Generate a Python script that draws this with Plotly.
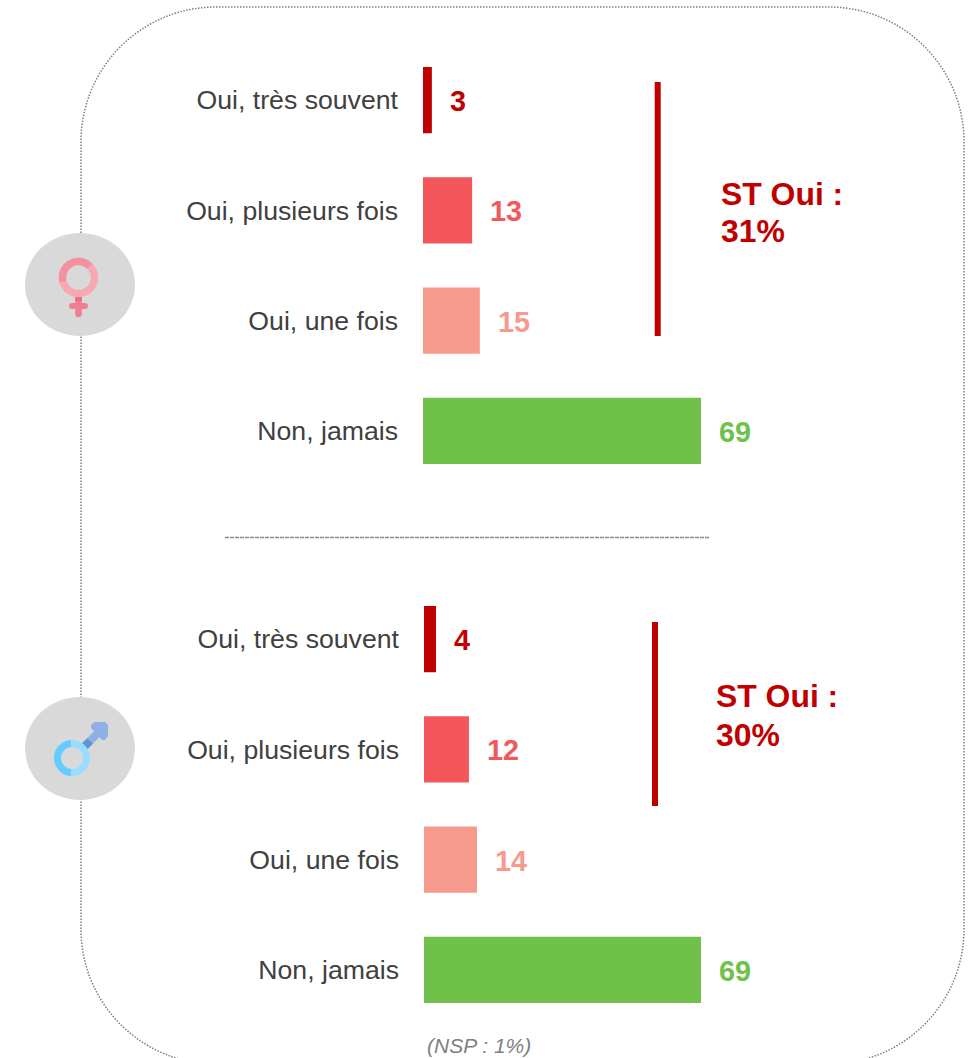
import math
import plotly.graph_objects as go

W, H = 973, 1058

categories = ["Oui, très souvent", "Oui, plusieurs fois", "Oui, une fois", "Non, jamais"]
femmes_bars = [2.2, 12.2, 14.1, 69]
femmes_labels = ["3", "13", "15", "69"]
hommes_bars = [3.0, 11.2, 13.2, 69]
hommes_labels = ["4", "12", "14", "69"]
colors = ["#C00000", "#F3575B", "#F79A8E", "#70C14A"]
st_femmes = ["ST Oui :", "31%"]
st_hommes = ["ST Oui :", "30%"]
footnote = "(NSP : 1%)"

FONT = "Liberation Sans, Arial, sans-serif"
DARK = "#404040"
RED = "#C00000"


def px(x):
    return x / W


def py(y):
    return 1 - y / H


def P(x, y):
    return f"{px(x):.5f},{py(y):.5f}"


def rounded_rect(l, t, r, b, rad):
    k = rad * 0.4477
    return (
        f"M{P(l + rad, t)} L{P(r - rad, t)} C{P(r - k, t)} {P(r, t + k)} {P(r, t + rad)} "
        f"L{P(r, b - rad)} C{P(r, b - k)} {P(r - k, b)} {P(r - rad, b)} "
        f"L{P(l + rad, b)} C{P(l + k, b)} {P(l, b - k)} {P(l, b - rad)} "
        f"L{P(l, t + rad)} C{P(l, t + k)} {P(l + k, t)} {P(l + rad, t)} Z"
    )


def sector(cx, cy, ro, ri, a0, a1, n=48):
    """Annular sector (angles in degrees, screen coordinates)."""
    pts = []
    for i in range(n + 1):
        a = math.radians(a0 + (a1 - a0) * i / n)
        pts.append(P(cx + ro * math.cos(a), cy + ro * math.sin(a)))
    for i in range(n, -1, -1):
        a = math.radians(a0 + (a1 - a0) * i / n)
        pts.append(P(cx + ri * math.cos(a), cy + ri * math.sin(a)))
    return "M" + " L".join(pts) + " Z"


def polygon(points):
    return "M" + " L".join(P(x, y) for x, y in points) + " Z"


def paper_line(x0, y0, x1, y1, color, width, dash=None):
    return dict(type="line", xref="paper", yref="paper", x0=px(x0), y0=py(y0), x1=px(x1), y1=py(y1),
                line=dict(color=color, width=width, dash=dash) if dash else dict(color=color, width=width))


def paper_path(d, fill):
    return dict(type="path", xref="paper", yref="paper", path=d, fillcolor=fill, line=dict(width=0))


def ellipse(cx, cy, rx, ry, fill):
    return dict(type="circle", xref="paper", yref="paper", x0=px(cx - rx), x1=px(cx + rx),
                y0=py(cy + ry), y1=py(cy - ry), fillcolor=fill, line=dict(width=0))


fig = go.Figure()
fig.add_trace(go.Bar(x=femmes_bars, y=categories, orientation="h", marker=dict(color=colors, line=dict(width=0)),
                     xaxis="x", yaxis="y", showlegend=False, hoverinfo="skip"))
fig.add_trace(go.Bar(x=hommes_bars, y=categories, orientation="h", marker=dict(color=colors, line=dict(width=0)),
                     xaxis="x2", yaxis="y2", showlegend=False, hoverinfo="skip"))

annotations = []
for xr, yr, vals, labs in (("x", "y", femmes_bars, femmes_labels), ("x2", "y2", hommes_bars, hommes_labels)):
    for cat, v, lab, c in zip(categories, vals, labs, colors):
        annotations.append(dict(xref=xr, yref=yr, x=v, y=cat, text=f"<b>{lab}</b>", showarrow=False,
                                xanchor="left", yanchor="middle", xshift=16, yshift=-1,
                                font=dict(family=FONT, size=28.8, color=c)))

for (x, y, t) in ((719, 194, st_femmes[0]), (719, 231, st_femmes[1]), (714, 696, st_hommes[0]), (714, 735, st_hommes[1])):
    annotations.append(dict(xref="paper", yref="paper", x=px(x), y=py(y), text=f"<b>{t}</b>", showarrow=False,
                            xanchor="left", yanchor="middle", font=dict(family=FONT, size=31.9, color=RED)))

annotations.append(dict(xref="paper", yref="paper", x=px(425), y=py(1045), text=f"<i>{footnote}</i>", showarrow=False,
                        xanchor="left", yanchor="middle", font=dict(family=FONT, size=21, color="#7F7F7F")))

PINK = "#F07F94"
BLUE = "#8FB0E2"
shapes = [
    dict(type="path", xref="paper", yref="paper", path=rounded_rect(81, 7, 964, 1064, 135),
         line=dict(color="#7F7F7F", width=1.5, dash="1.5px,1.5px")),
    paper_line(225, 537.5, 710, 537.5, "#8C8C8C", 1.3, dash="4px,1px"),
    paper_line(657.7, 82, 657.7, 336, RED, 6),
    paper_line(655, 622, 655, 806, RED, 6),
    ellipse(80, 284.5, 55, 51.5, "#D9D9D9"),
    ellipse(80, 748.5, 55, 51.5, "#D9D9D9"),
    # female symbol
    paper_line(78.5, 296, 78.5, 314, PINK, 6.5),
    ellipse(78.5, 314, 3.25, 3.25, PINK),
    paper_line(72, 306, 85, 306, PINK, 6),
    ellipse(72, 306, 3, 3, PINK),
    ellipse(85, 306, 3, 3, PINK),
    paper_line(78.5, 296, 78.5, 301, "#EC6A82", 6.5),
    paper_path(sector(78.5, 277.5, 19.7, 12.3, 0, 360), "#F8A8B2"),
    paper_path(sector(78.5, 277.5, 19.7, 12.3, 165, 315), "#F491A0"),
    # male symbol
    paper_line(84, 747, 101, 730, BLUE, 8),
    paper_path(polygon([(94, 722), (105, 722), (108, 725), (108, 736), (105, 740), (102, 740),
                        (91, 728), (91, 725)]), BLUE),
    paper_line(84, 747, 90, 741, "#5F94D6", 8),
    paper_path(sector(72, 758, 18, 11, 0, 360), "#99DDFF"),
    paper_path(sector(72, 758, 18, 11, 94, 266), "#66CCFF"),
]

axis_x = dict(visible=False, range=[0, 75], fixedrange=True)
tickfont = dict(family=FONT, size=26.67, color=DARK)
axis_y = dict(categoryorder="array", categoryarray=categories, autorange="reversed", showgrid=False, showline=False,
              zeroline=False, ticks="", tickfont=tickfont, ticklabelstandoff=24, fixedrange=True)

fig.update_layout(
    width=W, height=H, margin=dict(l=0, r=0, t=0, b=0), autosize=False,
    paper_bgcolor="white", plot_bgcolor="white", bargap=0.4, showlegend=False,
    xaxis=dict(axis_x, domain=[px(423), px(423 + 278 * 75 / 69)], anchor="y"),
    yaxis=dict(axis_y, domain=[py(486), py(45)], anchor="x"),
    xaxis2=dict(axis_x, domain=[px(424), px(424 + 277 * 75 / 69)], anchor="y2"),
    yaxis2=dict(axis_y, domain=[py(1025), py(584)], anchor="x2"),
    shapes=shapes, annotations=annotations,
)

fig.write_html("out.html", config={"displayModeBar": False},
               post_script="document.body.style.margin='0';document.body.style.overflow='hidden';")
